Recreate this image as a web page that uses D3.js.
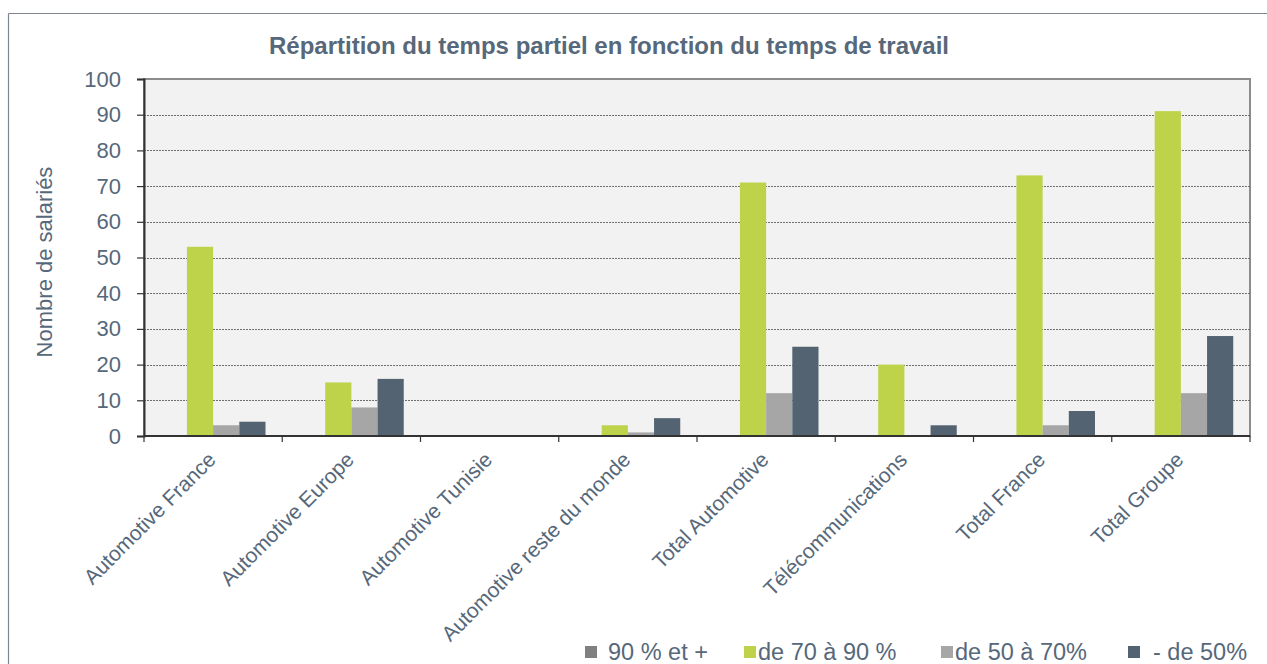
<!DOCTYPE html>
<html>
<head>
<meta charset="utf-8">
<script src="https://cdn.jsdelivr.net/npm/d3@7"></script>
<style>
  html, body { margin: 0; padding: 0; background: #fff; }
  svg { display: block; font-family: "Liberation Sans", Arial, sans-serif; }
</style>
</head>
<body>
<svg id="chart" width="1267" height="664"></svg>
<script>
// Catégories (entités) et séries (tranches de temps de travail)
const categories = [
  "Automotive France", "Automotive Europe", "Automotive Tunisie",
  "Automotive reste du monde", "Total Automotive", "Télécommunications",
  "Total France", "Total Groupe"
];
const seriesNames = ["90 % et +", "de 70 à 90 %", "de 50 à 70%", "- de 50%"];
const seriesColors = ["#808080", "#bed24a", "#a6a6a6", "#536372"];

const s90plus  = [0, 0, 0, 0, 0, 0, 0, 0];
const s70to90  = [53, 15, 0, 3, 71, 20, 73, 91];
const s50to70  = [3, 8, 0, 1, 12, 0, 3, 12];
const sUnder50 = [4, 16, 0, 5, 25, 3, 7, 28];
const seriesValues = [s90plus, s70to90, s50to70, sUnder50];

const yTicks = [0, 10, 20, 30, 40, 50, 60, 70, 80, 90, 100];

const textColor = "#56687a";
const svg = d3.select("#chart");

// Cadre extérieur
svg.append("line").attr("x1", 8.5).attr("x2", 1267).attr("y1", 13.5).attr("y2", 13.5)
  .attr("stroke", "#7f868e").attr("stroke-width", 1.2);
svg.append("line").attr("x1", 8.5).attr("x2", 8.5).attr("y1", 13.5).attr("y2", 664)
  .attr("stroke", "#7f868e").attr("stroke-width", 1.2);

const plot = { left: 144, right: 1250, top: 79, bottom: 436 };

const x = d3.scaleBand().domain(categories).range([plot.left, plot.right]).paddingInner(0).paddingOuter(0);
const inner = d3.scaleBand().domain(d3.range(seriesNames.length))
  .range([0, x.bandwidth()]).paddingInner(0).paddingOuter(0.64);
const y = d3.scaleLinear().domain([0, 100]).range([plot.bottom, plot.top]);

// Fond de la zone de tracé
svg.append("rect").attr("x", plot.left).attr("y", plot.top)
  .attr("width", plot.right - plot.left).attr("height", plot.bottom - plot.top)
  .attr("fill", "#f2f2f2").attr("stroke", "#8c8c8c").attr("stroke-width", 2);

// Quadrillage horizontal en pointillés
svg.append("g").selectAll("line").data(yTicks.filter(d => d > 0 && d < 100)).join("line")
  .attr("x1", plot.left).attr("x2", plot.right)
  .attr("y1", d => Math.round(y(d)) + 0.5).attr("y2", d => Math.round(y(d)) + 0.5)
  .attr("stroke", "#6e6e6e").attr("stroke-width", 1).attr("stroke-dasharray", "2,1");

// Barres
const groups = svg.append("g").selectAll("g").data(categories).join("g")
  .attr("transform", d => `translate(${x(d)},0)`);
groups.selectAll("rect")
  .data((c, ci) => seriesValues.map((vals, si) => ({ si, v: vals[ci] })))
  .join("rect")
  .attr("x", d => inner(d.si))
  .attr("width", inner.bandwidth())
  .attr("y", d => y(d.v))
  .attr("height", d => y(0) - y(d.v))
  .attr("fill", d => seriesColors[d.si]);

// Axe Y
const yAxis = d3.axisLeft(y).tickValues(yTicks).tickSize(7).tickPadding(16);
const gy = svg.append("g").attr("transform", `translate(${plot.left},0)`).call(yAxis);
gy.select(".domain").attr("stroke", "#333").attr("stroke-width", 2);
gy.selectAll(".tick line").attr("stroke", "#333").attr("stroke-width", 1.2);
gy.selectAll(".tick text").attr("fill", textColor)
  .style("font-size", "22px").style("font-family", "Liberation Sans, Arial, sans-serif");

// Axe X : graduations entre les catégories
const xAxisLine = svg.append("g");
xAxisLine.append("line").attr("x1", plot.left).attr("x2", plot.right)
  .attr("y1", plot.bottom).attr("y2", plot.bottom).attr("stroke", "#333").attr("stroke-width", 2);
const bounds = categories.map(c => x(c)).concat([plot.right]);
xAxisLine.selectAll("line.tk").data(bounds).join("line").attr("class", "tk")
  .attr("x1", d => d).attr("x2", d => d)
  .attr("y1", plot.bottom).attr("y2", plot.bottom + 6)
  .attr("stroke", "#333").attr("stroke-width", 1.2);

// Libellés de catégories inclinés
svg.append("g").selectAll("text").data(categories).join("text")
  .attr("transform", d => `translate(${x(d) + x.bandwidth() / 2 + 4},${plot.bottom + 25}) rotate(-45)`)
  .attr("text-anchor", "end")
  .attr("fill", textColor)
  .style("font-size", "21px")
  .text(d => d);

// Titre de l'axe Y
svg.append("text")
  .attr("transform", `translate(52,262) rotate(-90)`)
  .attr("text-anchor", "middle").attr("fill", textColor)
  .style("font-size", "22px")
  .text("Nombre de salariés");

// Titre du graphique
svg.append("text")
  .attr("x", 609).attr("y", 54)
  .attr("text-anchor", "middle").attr("fill", textColor)
  .style("font-size", "24px").style("font-weight", "bold")
  .text("Répartition du temps partiel en fonction du temps de travail");

// Légende
const legendX = [585, 744, 941, 1128];
const legendTextDx = [23, 14, 14, 25];
const legend = svg.append("g").selectAll("g").data(seriesNames).join("g")
  .attr("transform", (d, i) => `translate(${legendX[i]},646)`);
legend.append("rect").attr("width", 12).attr("height", 12)
  .attr("fill", (d, i) => seriesColors[i]);
legend.append("text").attr("x", (d, i) => legendTextDx[i]).attr("y", 14)
  .attr("fill", textColor).style("font-size", "23.5px")
  .text(d => d);
</script>
</body>
</html>
